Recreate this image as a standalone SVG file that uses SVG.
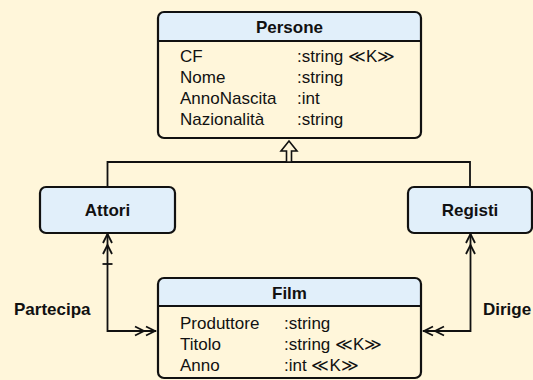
<svg xmlns="http://www.w3.org/2000/svg" width="533" height="380" viewBox="0 0 533 380">
<defs>
<style>
.bg{fill:#FFF6DA}
.box{fill:none;stroke:#111;stroke-width:2.2}
.hdr{fill:#E1EFFA}
.line{fill:none;stroke:#111;stroke-width:1.8}
.ah{fill:none;stroke:#111;stroke-width:1.8;stroke-linejoin:miter}
text{font-family:"Liberation Sans",Arial,Helvetica,sans-serif;font-size:17px;fill:#111}
.b{font-weight:bold;text-anchor:middle}
.lbl{font-weight:bold}
</style>
</defs>
<rect class="bg" x="0" y="0" width="533" height="380"/>
<g id="connectors">
  <path class="line" d="M107.5,187 V162 H470 V187"/>
  <polygon points="289,141 297,151 291.5,151 291.5,162 286.5,162 286.5,151 281,151" fill="#FFF6DA" stroke="#111" stroke-width="1.6" stroke-linejoin="miter"/>
  <path class="line" d="M156,331 H107.5 V234"/>
  <path class="ah" d="M146,326.5 L155,331 L146,335.5 M135,326.5 L144,331 L135,335.5"/>
  <path class="ah" d="M103,243 L107.5,234 L112,243 M103,254 L107.5,245 L112,254"/>
  <path class="line" d="M102.5,264 H112.5"/>
  <path class="line" d="M423,331 H470.5 V234"/>
  <path class="ah" d="M433,326.5 L424,331 L433,335.5 M444,326.5 L435,331 L444,335.5"/>
  <path class="ah" d="M466,243 L470.5,234 L475,243 M466,254 L470.5,245 L475,254"/>
  <text class="lbl" x="14" y="315">Partecipa</text>
  <text class="lbl" x="483" y="315">Dirige</text>
</g>
<g id="Persone">
  <path class="hdr" d="M158,41 V18 Q158,12 164,12 H415 Q421,12 421,18 V41 Z"/>
  <line class="box" x1="158" y1="41" x2="421" y2="41"/>
  <rect class="box" x="158" y="12" width="263" height="126" rx="6"/>
  <text class="b" x="289.5" y="33">Persone</text>
  <text x="180" y="62">CF</text><text x="297" y="62">:string ≪K≫</text>
  <text x="180" y="83">Nome</text><text x="297" y="83">:string</text>
  <text x="180" y="104">AnnoNascita</text><text x="297" y="104">:int</text>
  <text x="180" y="125">Nazionalità</text><text x="297" y="125">:string</text>
</g>
<g id="Attori">
  <rect class="box hdr" x="40" y="187" width="135" height="46" rx="6" style="fill:#E1EFFA"/>
  <text class="b" x="107.5" y="216">Attori</text>
</g>
<g id="Registi">
  <rect class="box hdr" x="408" y="187" width="124" height="46" rx="6" style="fill:#E1EFFA"/>
  <text class="b" x="470" y="216">Registi</text>
</g>
<g id="Film">
  <path class="hdr" d="M158,306 V284 Q158,278 164,278 H415 Q421,278 421,284 V306 Z"/>
  <line class="box" x1="158" y1="306" x2="421" y2="306"/>
  <rect class="box" x="158" y="278" width="263" height="100" rx="6"/>
  <text class="b" x="289.5" y="299">Film</text>
  <text x="180" y="329">Produttore</text><text x="284" y="329">:string</text>
  <text x="180" y="350">Titolo</text><text x="284" y="350">:string ≪K≫</text>
  <text x="180" y="371">Anno</text><text x="284" y="371">:int ≪K≫</text>
</g>
</svg>
